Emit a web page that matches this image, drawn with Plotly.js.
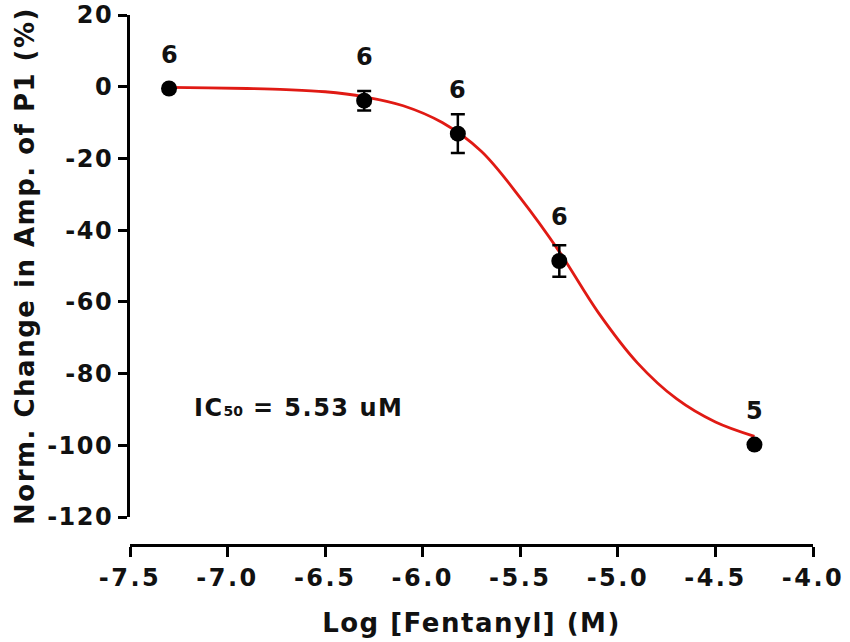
<!DOCTYPE html>
<html>
<head>
<meta charset="utf-8">
<script src="https://cdn.plot.ly/plotly-3.0.1.min.js"></script>
<style>
  html, body { margin: 0; padding: 0; background: #fff; }
  #chart { width: 850px; height: 642px; }
</style>
</head>
<body>
<div id="chart"></div>
<script>
// measured points (mean ± SEM) and n per concentration
var logConc = [-7.3, -6.3, -5.82, -5.3, -4.3];
var meanChange = [-0.5, -3.9, -13.1, -48.6, -99.8];
var semChange = [0, 2.7, 5.4, 4.4, 0];
var nCells = [6, 6, 6, 6, 5];

// fitted curve
var fitX = [-7.3, -7.1, -6.9, -6.7, -6.5, -6.3, -6.1, -5.9, -5.7, -5.5, -5.3, -5.1, -4.9, -4.7, -4.5, -4.3];
var fitY = [-0.2, -0.3, -0.5, -0.8, -1.4, -2.8, -5.3, -10, -18, -31, -46, -63, -77, -87, -93.5, -97.5];

var xTicks = [-7.5, -7.0, -6.5, -6.0, -5.5, -5.0, -4.5, -4.0];
var yTicks = [-120, -100, -80, -60, -40, -20, 0, 20];

var FONT = "DejaVu Sans, Verdana, sans-serif";
var INK = "#111";

// bold text with a bit of tracking, the original type is set wide
function wide(s, px) {
  return "<b><span style='letter-spacing:" + px + "px'>" + s + "</span></b>";
}

var fitTrace = {
  type: "scatter",
  mode: "lines",
  x: fitX,
  y: fitY,
  line: { color: "#e01a14", width: 2.8, shape: "spline", smoothing: 1 },
  hoverinfo: "skip"
};

var dataTrace = {
  type: "scatter",
  mode: "markers",
  x: logConc,
  y: meanChange,
  marker: { color: "#000", size: 16 },
  error_y: { type: "data", array: semChange, visible: true, color: "#000", thickness: 2.5, width: 7 }
};

var annotations = logConc.map(function(x, i) {
  return {
    x: x, y: meanChange[i], xref: "x", yref: "y",
    text: "<b>" + nCells[i] + "</b>",
    showarrow: false,
    yshift: (i === 0 || i === 4) ? 34 : 44,
    font: { family: FONT, size: 24, color: INK }
  };
});

annotations.push({
  x: -7.18, y: -89.5, xref: "x", yref: "y",
  xanchor: "left",
  text: "<b><span style='letter-spacing:1.5px'>IC</span><span style='font-size:14px'>50</span><span style='letter-spacing:1.5px'> = 5.53 uM</span></b>",
  showarrow: false,
  font: { family: FONT, size: 24, color: INK }
});

var layout = {
  width: 850,
  height: 642,
  margin: { l: 130, r: 37, t: 15, b: 97 },
  paper_bgcolor: "#fff",
  plot_bgcolor: "#fff",
  showlegend: false,
  font: { family: FONT, color: INK },
  xaxis: {
    range: [-7.5, -4.0],
    tickvals: xTicks,
    ticktext: xTicks.map(function(v) { return wide(v.toFixed(1), 2.5); }),
    tickfont: { family: FONT, size: 24, color: INK },
    showline: true, linecolor: "#000", linewidth: 3,
    ticks: "outside", ticklen: 10, tickwidth: 3, tickcolor: "#000",
    showgrid: false, zeroline: false,
    anchor: "free", position: 0,
    title: { text: wide("Log [Fentanyl] (M)", 1.5), font: { family: FONT, size: 26, color: INK }, standoff: 23 }
  },
  yaxis: {
    range: [-120, 20],
    domain: [0.0528, 1],
    tickvals: yTicks,
    ticktext: yTicks.map(function(v) { return wide(String(v), 1.5); }),
    tickfont: { family: FONT, size: 24, color: INK },
    showline: true, linecolor: "#000", linewidth: 3,
    ticks: "outside", ticklen: 9, tickwidth: 3, tickcolor: "#000",
    showgrid: false, zeroline: false,
    title: { text: wide("Norm. Change in Amp. of P1 (%)", 1.5), font: { family: FONT, size: 26, color: INK }, standoff: 6 }
  },
  annotations: annotations
};

Plotly.newPlot("chart", [fitTrace, dataTrace], layout, { displayModeBar: false, staticPlot: true });
</script>
</body>
</html>
